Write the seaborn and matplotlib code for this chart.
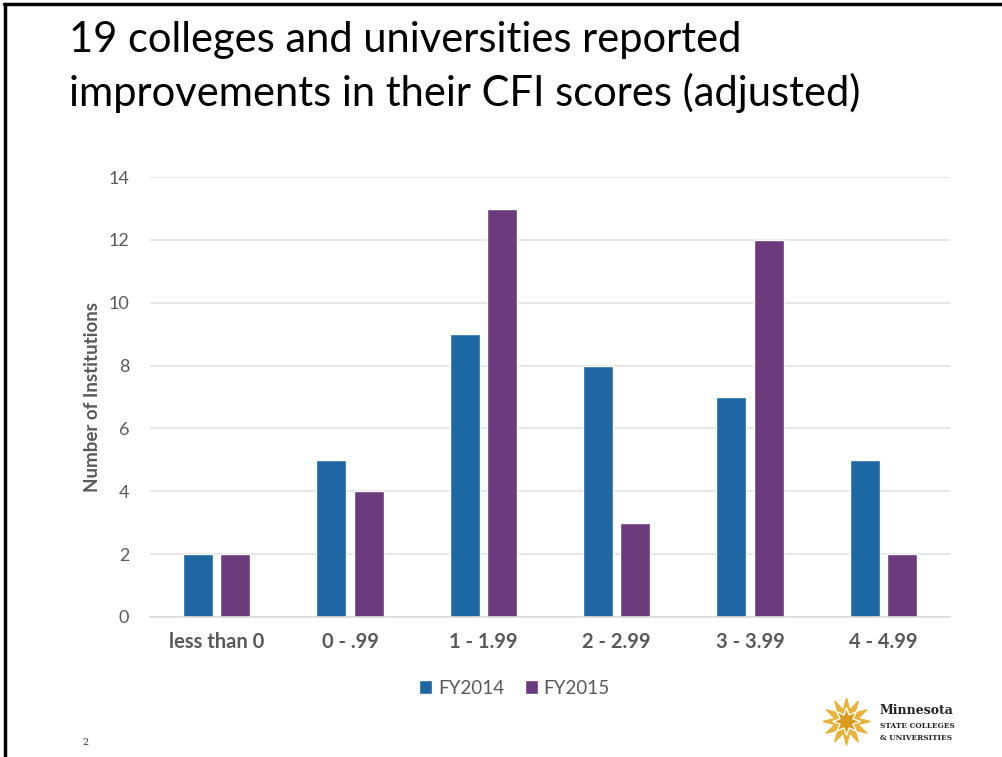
import matplotlib
matplotlib.use("Agg")
import matplotlib.pyplot as plt
from matplotlib.lines import Line2D
import pandas as pd
import seaborn as sns

# data
categories = ["less than 0", "0 - .99", "1 - 1.99", "2 - 2.99", "3 - 3.99", "4 - 4.99"]
fy2014 = [2, 5, 9, 8, 7, 5]
fy2015 = [2, 4, 13, 3, 12, 2]
series_names = ["FY2014", "FY2015"]
y_ticks = [0, 2, 4, 6, 8, 10, 12, 14]

title = "19 colleges and universities reported\nimprovements in their CFI scores (adjusted)"
y_label = "Number of Institutions"

df = pd.DataFrame({
    "range": categories * 2,
    "count": fy2014 + fy2015,
    "year": [series_names[0]] * len(categories) + [series_names[1]] * len(categories),
})

sns.set_theme(style="white")
plt.rcParams["font.family"] = ["Lato", "DejaVu Sans"]

gray = "#595959"
palette = {"FY2014": "#1F67A3", "FY2015": "#6B3B7D"}

fig = plt.figure(figsize=(10.03, 7.57), dpi=100)
ax = fig.add_axes([0.1496, 0.185, 0.7975, 0.581])

sns.barplot(data=df, x="range", y="count", hue="year", order=categories,
            hue_order=series_names, palette=palette, width=0.56, gap=0.2,
            saturation=1, ax=ax)

ax.set_xlim(-0.5, len(categories) - 0.5)
ax.set_ylim(0, 14)
ax.set_yticks(y_ticks)
ax.yaxis.grid(True, color="#e3e3e3", linewidth=1.2)
ax.set_axisbelow(True)
for side in ["top", "right", "left"]:
    ax.spines[side].set_visible(False)
ax.spines["bottom"].set_color("#d9d9d9")
ax.spines["bottom"].set_linewidth(1.2)
ax.tick_params(axis="both", length=0, colors=gray)
ax.tick_params(axis="y", labelsize=13, pad=15)
ax.tick_params(axis="x", labelsize=14.5, pad=11)
for lbl in ax.get_xticklabels():
    lbl.set_fontweight("bold")
ax.set_xlabel("")
ax.set_ylabel(y_label, fontsize=13.5, fontweight="bold", color=gray, labelpad=5)

ax.legend(loc="center", bbox_to_anchor=(0.513, 0.091), bbox_transform=fig.transFigure,
          ncol=2, frameon=False, fontsize=13.5, handlelength=0.7, handleheight=0.7,
          handletextpad=0.3, columnspacing=1.1, labelcolor=gray)

fig.text(0.069, 0.972, title, fontsize=30, color="black", va="top", ha="left",
         linespacing=1.4)

# slide page number
fig.text(0.082, 0.016, "2", fontsize=7, family="DejaVu Serif", color="#333333")

# slide border lines
fig.add_artist(Line2D([0.004, 1.0], [0.995, 0.995], color="black", linewidth=2.5,
                      transform=fig.transFigure))
fig.add_artist(Line2D([0.005, 0.005], [0.0, 0.995], color="black", linewidth=2.5,
                      transform=fig.transFigure))

# logo
fig.add_artist(Line2D([0.843], [0.048], marker=(12, 1, 0), markersize=34,
                      color="#E8B23A", transform=fig.transFigure))
fig.add_artist(Line2D([0.843], [0.048], marker=(8, 1, 0), markersize=20,
                      color="#D99A1C", markeredgecolor="white", transform=fig.transFigure))
fig.text(0.877, 0.062, "Minnesota", fontsize=9, fontweight="bold", family="DejaVu Serif",
         color="#222222", va="center")
fig.text(0.877, 0.041, "STATE COLLEGES", fontsize=5.3, fontweight="bold",
         family="DejaVu Serif", color="#222222", va="center")
fig.text(0.877, 0.025, "& UNIVERSITIES", fontsize=5.3, fontweight="bold",
         family="DejaVu Serif", color="#222222", va="center")

fig.savefig("out.png", dpi=100)
